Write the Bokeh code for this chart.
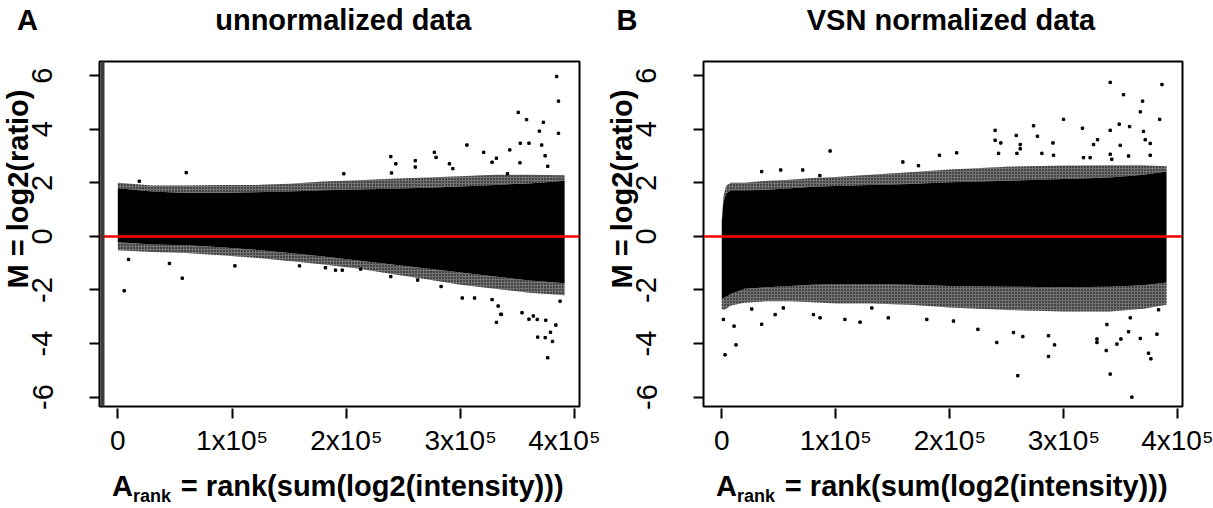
import math
from bokeh.plotting import figure
from bokeh.models import Span, FixedTicker, CustomJSTickFormatter, Range1d, Title, LinearAxis
from bokeh.layouts import row
from bokeh.embed import file_html
from bokeh.resources import INLINE

# ---------------- data ----------------
# Panel A (unnormalized): envelope of the dense point cloud, A_rank in units
A_grid = [0, 30000, 60000, 90000, 120000, 150000, 180000, 210000, 240000, 270000, 300000, 330000, 360000, 391000]
A_core_hi = [1.80, 1.68, 1.62, 1.62, 1.65, 1.68, 1.72, 1.75, 1.78, 1.82, 1.86, 1.92, 1.98, 2.08]
A_core_lo = [-0.22, -0.30, -0.33, -0.40, -0.50, -0.62, -0.75, -0.90, -1.05, -1.20, -1.35, -1.50, -1.65, -1.75]
A_fringe_hi = [2.00, 1.90, 1.90, 1.92, 1.92, 1.97, 2.05, 2.10, 2.15, 2.20, 2.25, 2.30, 2.30, 2.28]
A_fringe_lo = [-0.52, -0.58, -0.62, -0.70, -0.80, -0.92, -1.05, -1.20, -1.40, -1.60, -1.80, -1.95, -2.10, -2.20]

A_hi_x = [384000, 385600, 385600, 350400, 357700, 368900, 372400, 352200, 359800, 370900,
          343000, 320200, 305500, 331300, 327500, 373900, 376200, 290200, 351900, 341000,
          238900, 243300, 239500, 260300, 260300, 277000, 278500, 293200, 197800, 59900, 18800]
A_hi_m = [5.97, 5.05, 3.85, 4.63, 4.36, 3.93, 4.26, 3.48, 3.48, 3.41,
          3.23, 3.14, 3.41, 2.92, 2.77, 3.01, 2.62, 2.71, 2.75, 2.34,
          2.98, 2.71, 2.37, 2.83, 2.59, 3.14, 2.95, 2.53, 2.34, 2.38, 2.06]
A_lo_x = [376200, 367400, 380400, 378600, 383300, 331300, 359800, 363600, 335700, 353700,
          374500, 301400, 312200, 327500, 332800, 387000, 335100, 282900, 262400, 238900,
          181700, 190500, 196400, 212500, 5600, 56400, 9400, 45200, 102500, 159000, 374000, 367000]
A_lo_m = [-4.53, -3.76, -3.92, -3.58, -3.31, -3.21, -3.09, -2.97, -2.91, -2.85,
          -3.13, -2.30, -2.30, -2.36, -2.60, -2.42, -2.91, -1.87, -1.63, -1.50,
          -1.17, -1.26, -1.26, -1.22, -2.03, -1.56, -0.86, -1.01, -1.10, -1.10, -3.78, -3.10]

# Panel B (VSN normalized)
B_grid = [0, 1500, 4000, 8000, 20000, 40000, 60000, 80000, 100000, 130000, 165000, 200000, 250000, 300000, 340000, 370000, 390000]
B_core_hi = [0.50, 1.30, 1.60, 1.72, 1.72, 1.74, 1.80, 1.85, 1.88, 1.92, 1.96, 2.02, 2.08, 2.14, 2.20, 2.30, 2.42]
B_core_lo = [-2.30, -2.30, -2.25, -2.15, -1.95, -1.90, -1.85, -1.80, -1.78, -1.78, -1.80, -1.85, -1.88, -1.90, -1.88, -1.82, -1.72]
B_fringe_hi = [0.60, 1.50, 1.90, 2.00, 2.00, 2.08, 2.12, 2.18, 2.22, 2.30, 2.40, 2.50, 2.60, 2.65, 2.66, 2.66, 2.62]
B_fringe_lo = [-2.70, -2.75, -2.70, -2.58, -2.48, -2.42, -2.42, -2.46, -2.50, -2.50, -2.55, -2.65, -2.75, -2.80, -2.80, -2.70, -2.55]

B_hi_x = [95000, 35000, 51700, 71000, 86000, 158800, 172500, 340600, 386000, 352300,
          369000, 367000, 384000, 299700, 316300, 340600, 348500, 357600, 239700, 239700,
          273400, 276800, 258200, 261700, 261700, 244700, 290400, 326000, 329500, 349400,
          369800, 371300, 375700, 206000, 190900, 242700, 258800, 280700, 290900, 340600,
          342000, 375700, 317200, 323000, 356700]
B_hi_m = [3.19, 2.42, 2.48, 2.48, 2.27, 2.78, 2.64, 5.75, 5.67, 5.29,
          5.05, 4.65, 4.37, 4.37, 4.04, 3.96, 4.19, 4.10, 3.96, 3.59,
          4.13, 3.74, 3.77, 3.43, 3.27, 3.49, 3.49, 3.43, 3.61, 3.40,
          3.92, 3.61, 3.47, 3.12, 3.03, 3.10, 3.10, 3.10, 3.03, 3.07,
          2.88, 3.03, 2.94, 2.94, 3.00]
B_lo_x = [2900, 12500, 10800, 1400, 35000, 46800, 80400, 86200, 108000, 121300,
          146000, 26300, 54000, 131600, 359600, 259600, 340600, 286500, 337100, 376300,
          374200, 291800, 241200, 329000, 329000, 346500, 350000, 367000, 381600, 224600,
          255800, 264000, 286500, 337700, 356700, 358200, 179800, 203200, 383000]
B_lo_m = [-4.42, -4.05, -3.35, -3.10, -3.28, -2.92, -2.92, -3.04, -3.10, -3.20,
          -3.04, -2.71, -2.67, -2.67, -6.00, -5.20, -5.14, -4.48, -4.26, -4.57,
          -4.36, -4.05, -3.96, -3.83, -3.96, -4.02, -3.83, -3.81, -3.65, -3.47,
          -3.59, -3.74, -3.71, -3.29, -3.56, -3.04, -3.10, -3.16, -2.74]

x_ticks = [0, 100000, 200000, 300000, 400000]
y_ticks = [-6, -4, -2, 0, 2, 4, 6]
titles = ["unnormalized data", "VSN normalized data"]
panel_letters = ["A", "B"]
y_title = "M = log2(ratio)"
x_title_main = "A"
x_title_sub = "rank"
x_title_rest = "= rank(sum(log2(intensity)))"

# ---------------- layout ----------------
FONT = "Liberation Sans"
X_START, X_END = -16000, 404000
Y_START, Y_END = -6.35, 6.53
TOP, BOTTOM = 60, 99
H = 508
NBSP = "\u00a0"


def text_axis(p, side, ticks, labels, size, standoff):
    """An axis with no line and no tick marks, used only to lay out bold texts."""
    ax = LinearAxis(ticker=FixedTicker(ticks=ticks),
                    formatter=CustomJSTickFormatter(args=dict(labels=labels), code="return labels[index];"),
                    axis_line_color=None, major_tick_line_color=None, minor_tick_line_color=None,
                    major_tick_in=0, major_tick_out=0, major_label_standoff=standoff,
                    major_label_text_font=FONT, major_label_text_font_size=size,
                    major_label_text_font_style="bold", major_label_text_color="black")
    p.add_layout(ax, side)
    return ax


def panel(width, bl, br, grid, core_hi, core_lo, fr_hi, fr_lo, hx, hm, lx, lm,
          head_text, head_cx, gray_bar):
    fw = width - bl - br

    def X(px):  # canvas pixel -> data x (only for laying out texts)
        return X_START + (px - bl) / fw * (X_END - X_START)

    p = figure(width=width, height=H, output_backend="svg", toolbar_location=None,
               x_range=Range1d(X_START, X_END), y_range=Range1d(Y_START, Y_END),
               min_border_left=bl, min_border_right=br, min_border_top=TOP, min_border_bottom=BOTTOM,
               background_fill_color="white", border_fill_color="white")
    p.grid.visible = False
    p.outline_line_color = "black"
    p.outline_line_width = 2

    # speckled fringe of the cloud
    for y1, y2 in ((core_hi, fr_hi), (fr_lo, core_lo)):
        p.varea(x=grid, y1=y1, y2=y2, fill_color="black", fill_alpha=0.55,
                hatch_pattern="dot", hatch_color="black", hatch_scale=3.0, hatch_weight=1.6, hatch_alpha=1.0)
    # dense core
    p.varea(x=grid, y1=core_lo, y2=core_hi, fill_color="black", fill_alpha=1.0)
    # isolated points
    p.scatter(hx + lx, hm + lm, marker="square", size=2.4, color="black")

    p.add_layout(Span(location=0, dimension="width", line_color="#ff0000", line_width=2.5))
    if gray_bar:
        p.add_layout(Span(location=X(bl + 3), dimension="height", line_color="#3c3c3c", line_width=4))

    xa = p.xaxis[0]
    xa.ticker = FixedTicker(ticks=x_ticks)
    xa.formatter = CustomJSTickFormatter(code="return tick == 0 ? '0' : (tick/100000).toFixed(0) + 'x10\u2075';")
    xa.axis_line_color = None
    xa.major_tick_in = -2
    xa.major_tick_out = 12
    xa.major_tick_line_width = 2
    xa.minor_tick_line_color = None
    xa.major_label_standoff = 6
    xa.major_label_text_font = FONT
    xa.major_label_text_font_size = "28px"
    xa.major_label_text_color = "black"

    ya = p.yaxis[0]
    ya.ticker = FixedTicker(ticks=y_ticks)
    ya.formatter = CustomJSTickFormatter(code="return tick.toString();")
    ya.axis_line_color = None
    ya.major_tick_in = 0
    ya.major_tick_out = 10
    ya.major_tick_line_width = 2
    ya.minor_tick_line_color = None
    ya.major_label_orientation = "parallel"
    ya.major_label_standoff = 37
    ya.major_label_text_font = FONT
    ya.major_label_text_font_size = "29px"
    ya.major_label_text_color = "black"

    # panel letter and panel title on one row above the frame
    text_axis(p, "above", [X(head_cx)], [head_text], "29px", 26)
    # x-axis title: A, subscript "rank", then the rest
    rel = bl + 12.4
    text_axis(p, "below", [X(rel + 40.0)], [x_title_sub], "18px", 27)
    text_axis(p, "below", [X(rel + 10.5), X(rel + 260.3)], [x_title_main, x_title_rest], "29px", -39)
    # y-axis title, placed higher than the frame's middle as in the original
    p.add_layout(Title(text=y_title, align="left", offset=118, standoff=-8,
                       text_font=FONT, text_font_size="29px", text_font_style="bold", text_color="black"),
                 "left")
    return p


head_A = panel_letters[0] + NBSP * 22 + titles[0]
head_B = panel_letters[1] + NBSP * 21 + titles[1]

pa = panel(600, 99, 21, A_grid, A_core_hi, A_core_lo, A_fringe_hi, A_fringe_lo,
           A_hi_x, A_hi_m, A_lo_x, A_lo_m, head_A, 243.7, True)
pb = panel(613, 103, 31, B_grid, B_core_hi, B_core_lo, B_fringe_hi, B_fringe_lo,
           B_hi_x, B_hi_m, B_lo_x, B_lo_m, head_B, 255.4, False)

layout = row(pa, pb)
open("out.html", "w").write(file_html(layout, INLINE))
